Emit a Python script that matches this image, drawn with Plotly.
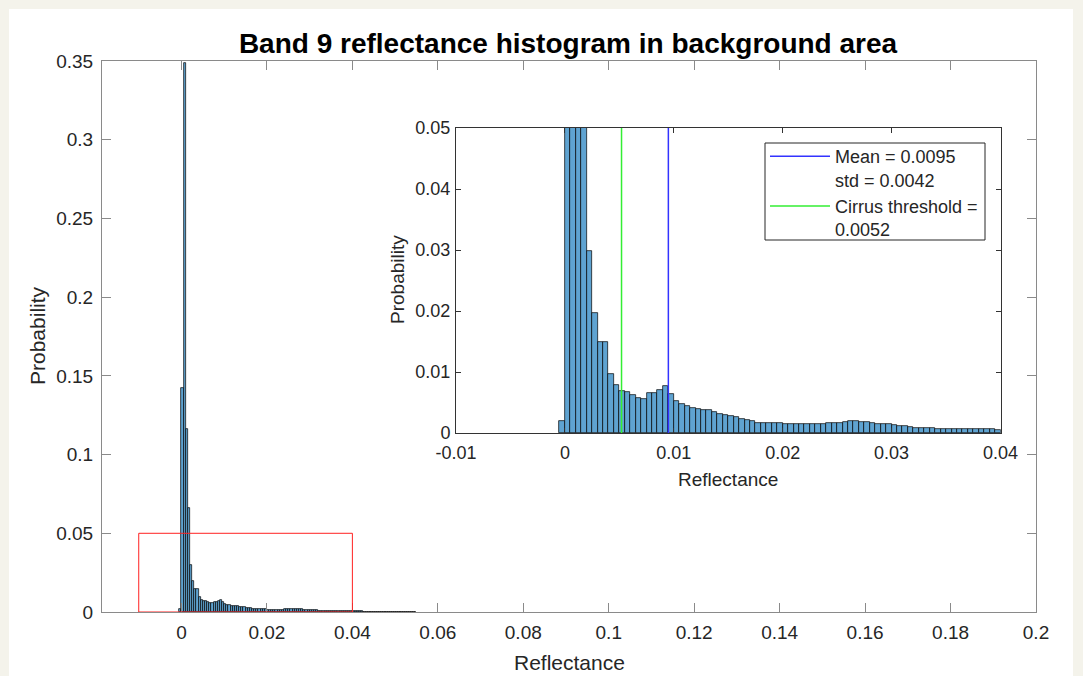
import numpy as np
import plotly.graph_objects as go

# ---- data (histogram, bin width 0.0005, first bin starts at -0.0005) ----
bin_width = 0.0005
first_edge = -0.0005
probability = [
    0.0019,                                   # [-0.0005, 0)
    0.142, 0.349, 0.116, 0.066, 0.0298,       # 0 .. 0.0025
    0.0197, 0.0149, 0.0149, 0.0097, 0.0079,   # 0.0025 .. 0.005
    0.0069, 0.0067, 0.0062, 0.0057, 0.0055,   # 0.005 .. 0.0075
    0.0065, 0.0065, 0.0071, 0.0077, 0.0064,   # 0.0075 .. 0.01
    0.0053, 0.0047, 0.0045, 0.0041, 0.0039,   # 0.01 .. 0.0125
    0.0038, 0.0037, 0.0034, 0.0031, 0.0030,   # 0.0125 .. 0.015
    0.0028, 0.0026, 0.0023, 0.0021, 0.0019,   # 0.015 .. 0.0175
    0.0017, 0.0016, 0.0016, 0.0016, 0.0016,   # 0.0175 .. 0.02
    0.0015, 0.0015, 0.0014, 0.0014, 0.0014,   # 0.02 .. 0.0225
    0.0014, 0.0015, 0.0015, 0.0016, 0.0016,   # 0.0225 .. 0.025
    0.0017, 0.0018, 0.0019, 0.0019, 0.0018,   # 0.025 .. 0.0275
    0.0018, 0.0016, 0.0015, 0.0014, 0.0014,   # 0.0275 .. 0.03
    0.0013, 0.0012, 0.0011, 0.0010, 0.0009,   # 0.03 .. 0.0325
    0.0009, 0.0008, 0.0008, 0.0007, 0.0007,   # 0.0325 .. 0.035
    0.0006, 0.0006, 0.0006, 0.0006, 0.0006,   # 0.035 .. 0.0375
    0.0006, 0.0006, 0.0006, 0.0006, 0.0005,   # 0.0375 .. 0.04
    0.0005, 0.0005, 0.0004, 0.0004, 0.0004,   # 0.04 .. 0.0425
    0.0003, 0.0003, 0.0003, 0.0003, 0.0002,   # 0.0425 .. 0.045
    0.0002, 0.0002, 0.0002, 0.0002, 0.0001,   # 0.045 .. 0.0475
    0.0001, 0.0001, 0.0001, 0.0001, 0.0001,   # 0.0475 .. 0.05
    0.0001, 0.0001, 0.0001, 0.0001, 0.0001,   # 0.05 .. 0.0525
    0.0001, 0.0001, 0.0001, 0.0001, 0.0001,   # 0.0525 .. 0.055
]
bin_centers = first_edge + bin_width * (np.arange(len(probability)) + 0.5)

mean_value = 0.0095
std_value = 0.0042
cirrus_threshold = 0.0052

zoom_box_x = [-0.01, 0.04]
zoom_box_y = [0, 0.05]

main_xticks = [0, 0.02, 0.04, 0.06, 0.08, 0.1, 0.12, 0.14, 0.16, 0.18, 0.2]
main_xticklabels = ["0", "0.02", "0.04", "0.06", "0.08", "0.1", "0.12", "0.14", "0.16", "0.18", "0.2"]
main_yticks = [0, 0.05, 0.1, 0.15, 0.2, 0.25, 0.3, 0.35]
main_yticklabels = ["0", "0.05", "0.1", "0.15", "0.2", "0.25", "0.3", "0.35"]
inset_xticks = [-0.01, 0, 0.01, 0.02, 0.03, 0.04]
inset_xticklabels = ["-0.01", "0", "0.01", "0.02", "0.03", "0.04"]
inset_yticks = [0, 0.01, 0.02, 0.03, 0.04, 0.05]
inset_yticklabels = ["0", "0.01", "0.02", "0.03", "0.04", "0.05"]

# ---- geometry (pixels) ----
W, H = 1083, 676
def px(x):
    return x / W
def py(y):
    return 1 - y / H

FONT = "Liberation Sans, Arial, Helvetica, sans-serif"
TXT = "#262626"
BAR_FILL = "#5fa3d1"

fig = go.Figure()

bar_style = dict(marker=dict(color=BAR_FILL, line=dict(color="#000000", width=0.7)),
                 width=bin_width, showlegend=False, hoverinfo="x+y")

fig.add_trace(go.Bar(x=bin_centers, y=probability, xaxis="x", yaxis="y", **bar_style))
fig.add_trace(go.Bar(x=bin_centers, y=probability, xaxis="x2", yaxis="y2", **bar_style))

fig.add_trace(go.Scatter(x=[mean_value, mean_value], y=[0, 0.05], xaxis="x2", yaxis="y2",
                         mode="lines", line=dict(color="#3333ff", width=1.5),
                         name=f"Mean = {mean_value}<br>std = {std_value}"))
fig.add_trace(go.Scatter(x=[cirrus_threshold, cirrus_threshold], y=[0, 0.05], xaxis="x2", yaxis="y2",
                         mode="lines", line=dict(color="#33ee33", width=1.5),
                         name=f"Cirrus threshold =<br>{cirrus_threshold}"))

# white panel on beige page
fig.add_shape(type="rect", xref="paper", yref="paper", x0=px(9), x1=px(1073), y0=0, y1=py(9),
              fillcolor="white", line=dict(width=0), layer="below")
# zoom region box
fig.add_shape(type="rect", xref="x", yref="y", x0=zoom_box_x[0], x1=zoom_box_x[1],
              y0=zoom_box_y[0], y1=zoom_box_y[1], line=dict(color="#ff2020", width=1), layer="above")
# legend frame
fig.add_shape(type="rect", xref="paper", yref="paper", x0=px(765), x1=px(985), y0=py(240), y1=py(143),
              fillcolor="white", line=dict(color="#262626", width=1), layer="above")

axis_common = dict(showgrid=False, zeroline=False, ticks="inside", mirror="ticks",
                   showline=True, automargin=False)
main_font = dict(family=FONT, size=19, color=TXT)
inset_font = dict(family=FONT, size=18, color=TXT)

fig.update_layout(
    width=W, height=H, margin=dict(l=0, r=0, t=0, b=0),
    paper_bgcolor="#f4f3eb", plot_bgcolor="white",
    bargap=0, barmode="overlay",
    font=dict(family=FONT, color=TXT),
    xaxis=dict(domain=[px(102), px(1036)], range=[-0.0186, 0.2], anchor="y",
               tickvals=main_xticks, ticktext=main_xticklabels, ticklen=9, tickfont=main_font,
               ticklabelstandoff=3,
               linecolor="#8a8a8a", tickcolor="#8a8a8a", linewidth=1, **axis_common),
    yaxis=dict(domain=[py(612), py(61)], range=[0, 0.35], anchor="x",
               tickvals=main_yticks, ticktext=main_yticklabels, ticklen=9, tickfont=main_font,
               ticklabelstandoff=4,
               linecolor="#8a8a8a", tickcolor="#8a8a8a", linewidth=1, **axis_common),
    xaxis2=dict(domain=[px(456), px(1000.5)], range=[-0.01, 0.04], anchor="y2",
                tickvals=inset_xticks, ticktext=inset_xticklabels, ticklen=5, tickfont=inset_font,
                ticklabelstandoff=3,
                linecolor="#333333", tickcolor="#333333", linewidth=1, **axis_common),
    yaxis2=dict(domain=[py(433), py(128)], range=[0, 0.05], anchor="x2",
                tickvals=inset_yticks, ticktext=inset_yticklabels, ticklen=5, tickfont=inset_font,
                ticklabelstandoff=1,
                linecolor="#333333", tickcolor="#333333", linewidth=1, **axis_common),
    legend=dict(x=px(765), y=py(138), xanchor="left", yanchor="top",
                bgcolor="rgba(0,0,0,0)", borderwidth=0,
                font=dict(family=FONT, size=18, color=TXT), valign="top",
                itemwidth=60, tracegroupgap=0),
    title=dict(text="<b>Band 9 reflectance histogram in background area</b>",
               x=px(568), xanchor="center", y=py(43), yanchor="middle",
               font=dict(family=FONT, size=28, color="#000000")),
    annotations=[
        dict(text="Reflectance", xref="paper", yref="paper", x=px(569), y=py(662),
             showarrow=False, font=dict(family=FONT, size=21, color=TXT), xanchor="center", yanchor="middle"),
        dict(text="Probability", xref="paper", yref="paper", x=px(37), y=py(336), textangle=-90,
             showarrow=False, font=dict(family=FONT, size=21, color=TXT), xanchor="center", yanchor="middle"),
        dict(text="Reflectance", xref="paper", yref="paper", x=px(728), y=py(479),
             showarrow=False, font=dict(family=FONT, size=19, color=TXT), xanchor="center", yanchor="middle"),
        dict(text="Probability", xref="paper", yref="paper", x=px(397), y=py(280), textangle=-90,
             showarrow=False, font=dict(family=FONT, size=19, color=TXT), xanchor="center", yanchor="middle"),
    ],
)

fig.write_html("out.html")
